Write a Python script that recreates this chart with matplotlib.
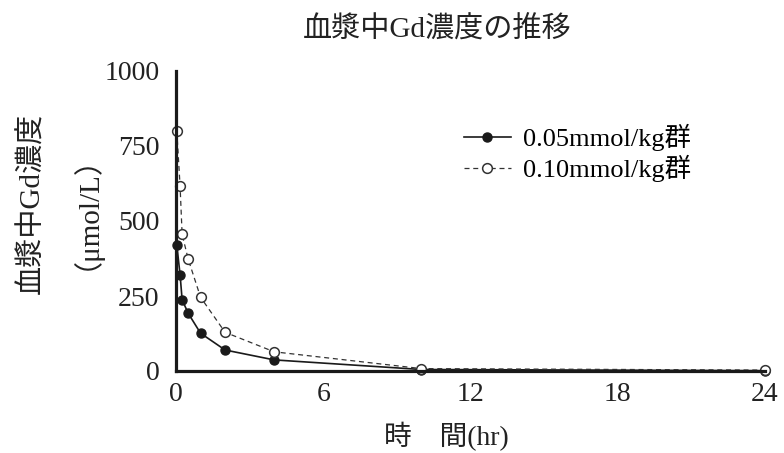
import matplotlib
matplotlib.use('Agg')
import matplotlib.pyplot as plt

# 時間 (hr)
times = [0.033, 0.167, 0.25, 0.5, 1, 2, 4, 10, 24]
# 血漿中Gd濃度 (μmol/L)
low_dose = [420, 320, 237, 192, 126, 70, 37, 5, 1]
high_dose = [800, 615, 455, 372, 246, 129, 64, 8, 3]
labels = ['0.05mmol/kg群', '0.10mmol/kg群']
xticks = [0, 6, 12, 18, 24]
yticks = [0, 250, 500, 750, 1000]

fam = ['Liberation Serif', 'Noto Sans CJK JP', 'DejaVu Sans']
plt.rcParams['font.family'] = fam

fig = plt.figure(figsize=(7.84, 4.53), dpi=100)
ax = fig.add_axes([176/784, 1-371/453, (765-176)/784, 300/453])

ax.plot(times, low_dose, '-', color='#1a1a1a', lw=1.2, marker='o', ms=6.5,
        mfc='#1a1a1a', mec='#1a1a1a', clip_on=False, label=labels[0], zorder=3)
ax.plot(times, high_dose, '--', color='#333333', lw=0.9, dashes=(4, 3), marker='o', ms=7,
        mfc='white', mec='#333333', mew=1.1, clip_on=False, label=labels[1], zorder=3)

ax.set_xlim(0, 24)
ax.set_ylim(0, 1000)
ax.set_xticks(xticks)
ax.set_yticks(yticks)
ax.tick_params(length=0, labelsize=20, colors='#222222')
ax.tick_params(axis='y', pad=12)
ax.tick_params(axis='x', pad=8)
for s in ['top', 'right']:
    ax.spines[s].set_visible(False)
for s in ['left', 'bottom']:
    ax.spines[s].set_linewidth(2.3)
    ax.spines[s].set_color('#1a1a1a')
    ax.spines[s].set_zorder(4)

leg = ax.legend(loc='upper left', bbox_to_anchor=(440/784, 1-100/453),
                bbox_transform=fig.transFigure, frameon=False, fontsize=19,
                handlelength=1.8, handletextpad=0.45, labelspacing=0.15)

fig.text(437/784, 1-30/453, '血漿中Gd濃度の推移', ha='center', va='center',
         fontsize=21, color='#222222')
fig.text(446/784, 1-437/453, '時　間(hr)', ha='center', va='center',
         fontsize=20, color='#222222')
fig.text(32/784, 1-203/453, '血漿中Gd濃度', ha='center', va='center', rotation=90,
         fontsize=21, color='#222222')
fig.text(70/784, 1-197/453, '（μmol/L）', ha='center', va='center', rotation=90,
         fontsize=21, color='#222222')

plt.savefig('out.png', dpi=100)
